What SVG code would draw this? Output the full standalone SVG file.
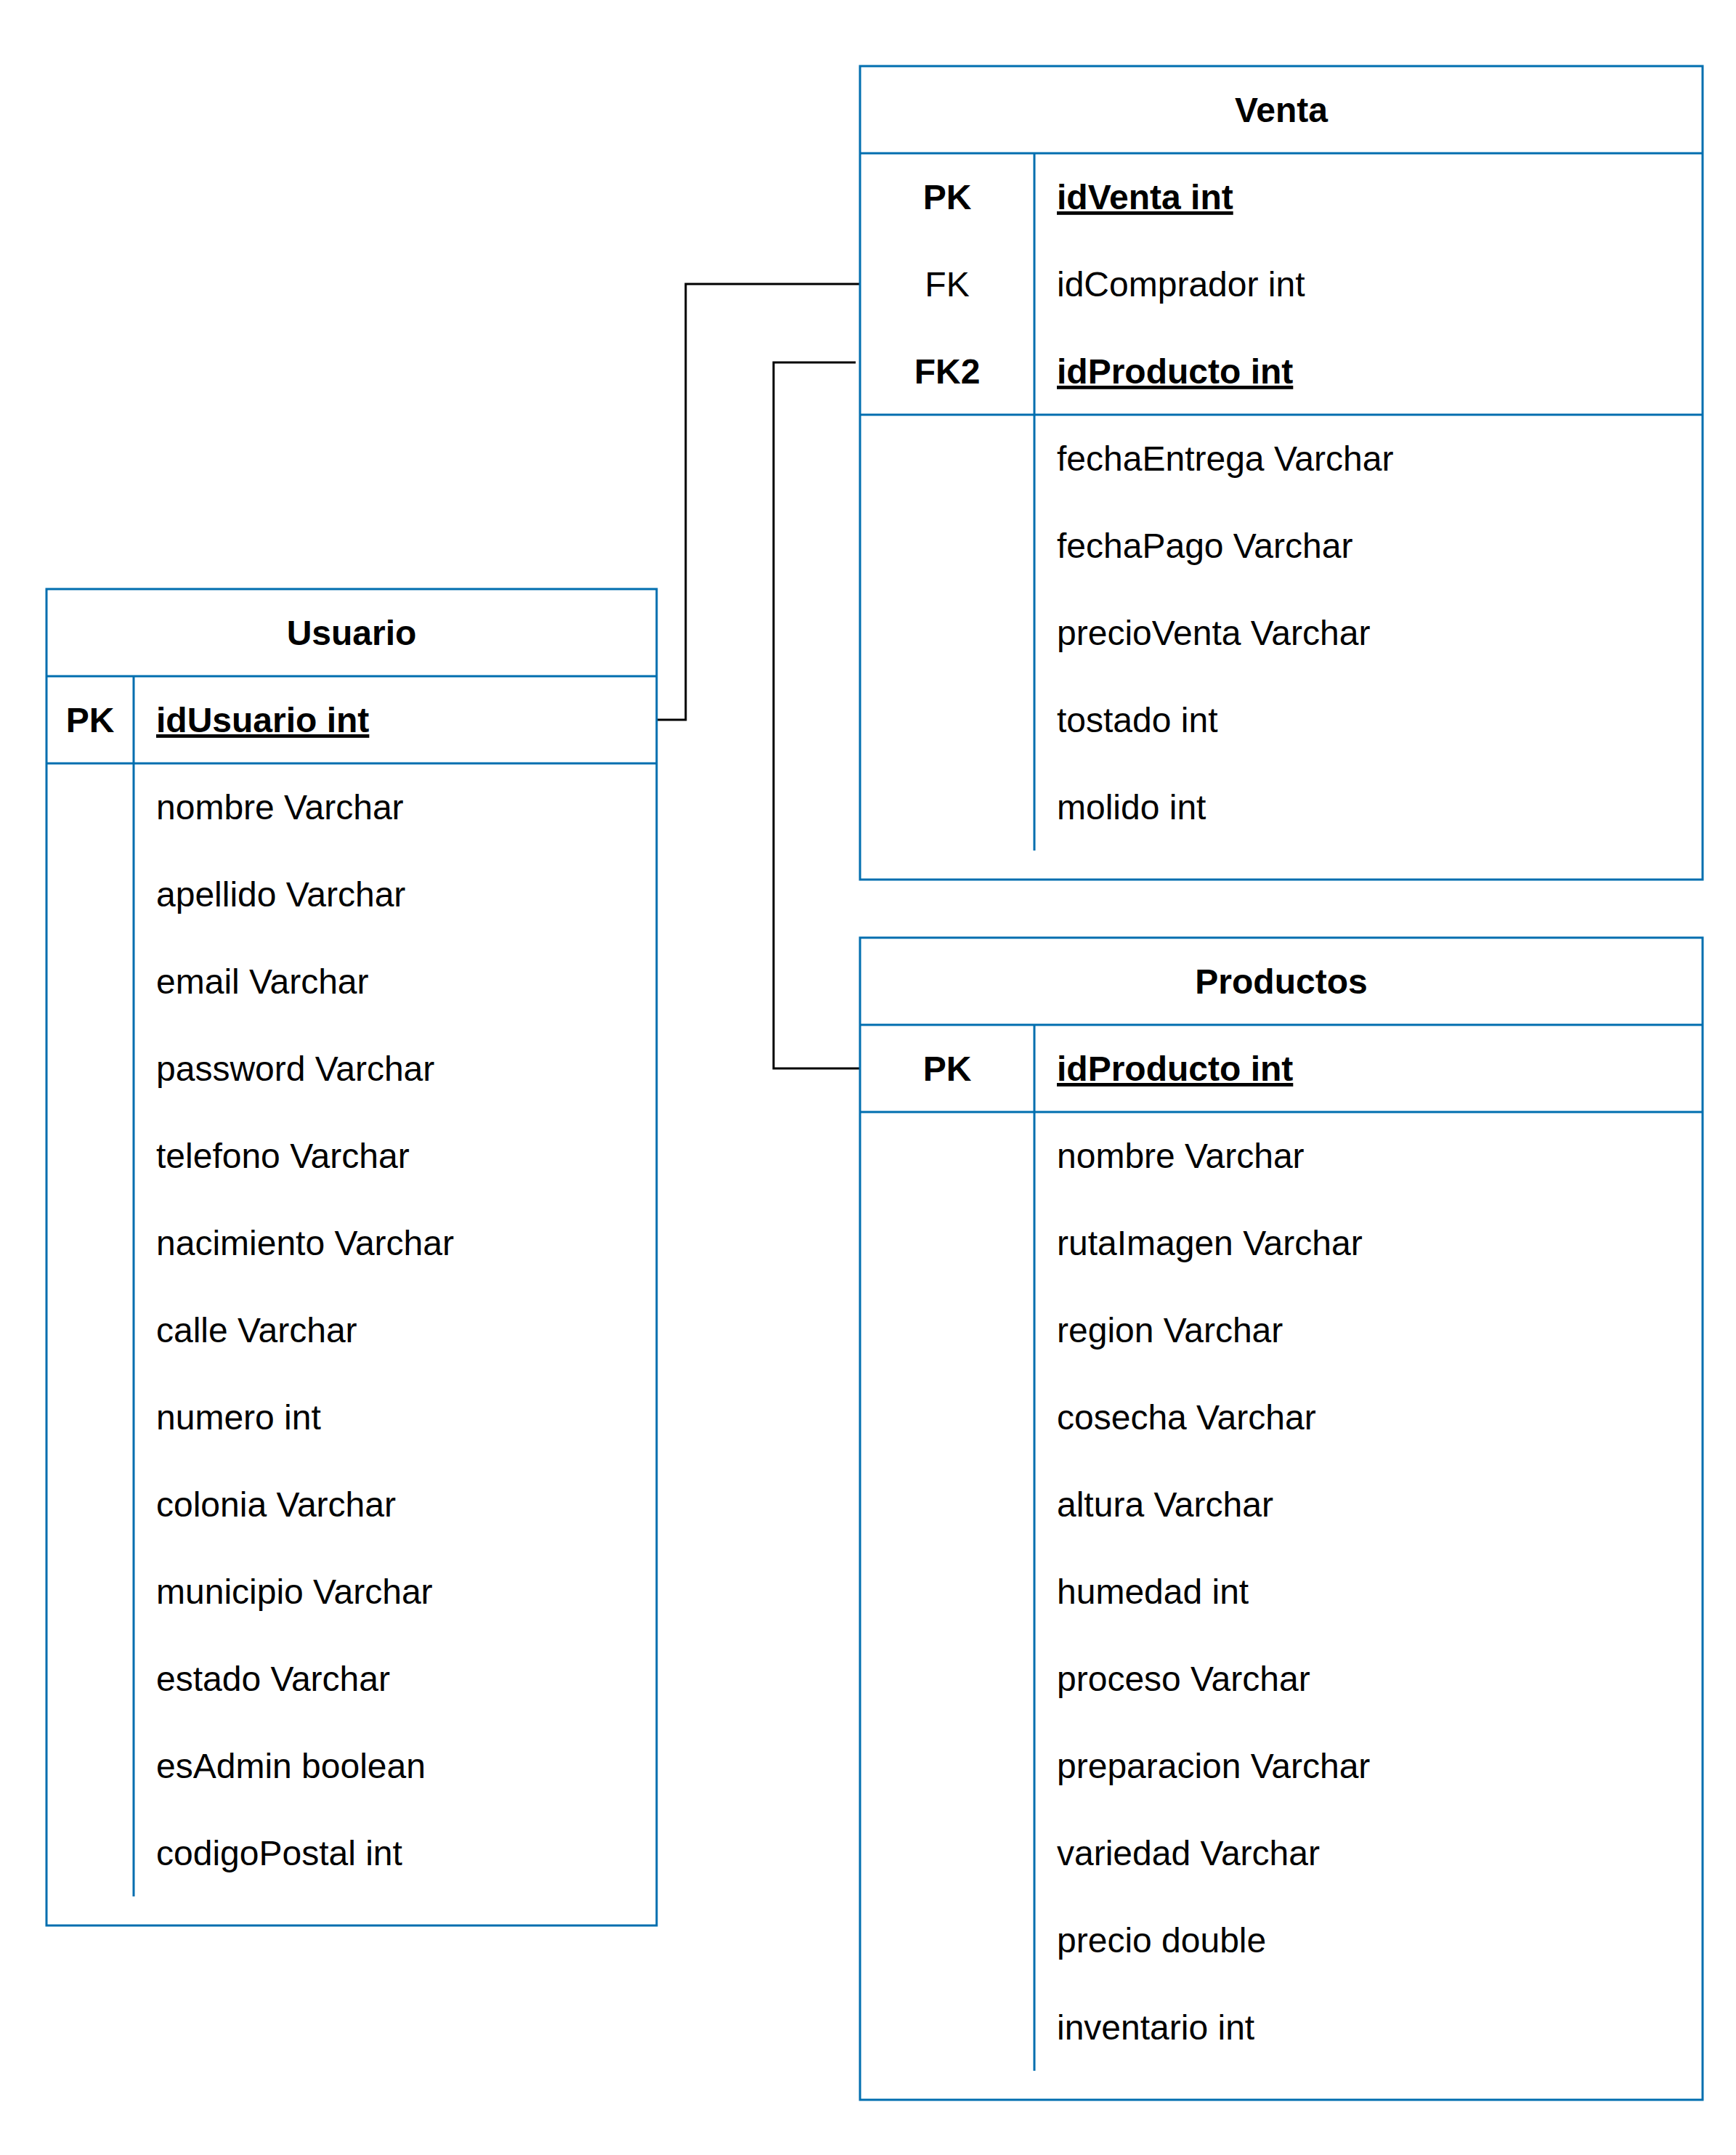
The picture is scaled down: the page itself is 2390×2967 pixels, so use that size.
<svg xmlns="http://www.w3.org/2000/svg" width="2390" height="2967" viewBox="0 0 2390 2967">
<style>
.box{fill:#ffffff;stroke:#006EAF;stroke-width:3}
.ln{stroke:#006EAF;stroke-width:3;fill:none}
.con{stroke:#000000;stroke-width:3;fill:none}
text{font-family:"Liberation Sans",Arial,sans-serif;font-size:48px;fill:#000000}
.b{font-weight:bold}
.c{text-anchor:middle}
.u{text-decoration:underline}
</style>
<rect width="2390" height="2967" fill="#ffffff"/>
<g id="connectors">
<polyline class="con" points="904,991 944,991 944,391 1184,391"/>
<polyline class="con" points="1178,499 1065,499 1065,1471 1184,1471"/>
</g>
<g id="usuario">
<rect class="box" x="64" y="811" width="840" height="1840"/>
<line class="ln" x1="64" y1="931" x2="904" y2="931"/>
<line class="ln" x1="64" y1="1051" x2="904" y2="1051"/>
<line class="ln" x1="184" y1="931" x2="184" y2="2611"/>
<text class="b c" x="484" y="888">Usuario</text>
<text class="b c" x="124" y="1008">PK</text>
<text class="b u" x="215" y="1008">idUsuario int</text>
<text x="215" y="1128">nombre Varchar</text>
<text x="215" y="1248">apellido Varchar</text>
<text x="215" y="1368">email Varchar</text>
<text x="215" y="1488">password Varchar</text>
<text x="215" y="1608">telefono Varchar</text>
<text x="215" y="1728">nacimiento Varchar</text>
<text x="215" y="1848">calle Varchar</text>
<text x="215" y="1968">numero int</text>
<text x="215" y="2088">colonia Varchar</text>
<text x="215" y="2208">municipio Varchar</text>
<text x="215" y="2328">estado Varchar</text>
<text x="215" y="2448">esAdmin boolean</text>
<text x="215" y="2568">codigoPostal int</text>
</g>
<g id="venta">
<rect class="box" x="1184" y="91" width="1160" height="1120"/>
<line class="ln" x1="1184" y1="211" x2="2344" y2="211"/>
<line class="ln" x1="1184" y1="571" x2="2344" y2="571"/>
<line class="ln" x1="1424" y1="211" x2="1424" y2="1171"/>
<text class="b c" x="1764" y="168">Venta</text>
<text class="b c" x="1304" y="288">PK</text>
<text class="b u" x="1455" y="288">idVenta int</text>
<text class="c" x="1304" y="408">FK</text>
<text x="1455" y="408">idComprador int</text>
<text class="b c" x="1304" y="528">FK2</text>
<text class="b u" x="1455" y="528">idProducto int</text>
<text x="1455" y="648">fechaEntrega Varchar</text>
<text x="1455" y="768">fechaPago Varchar</text>
<text x="1455" y="888">precioVenta Varchar</text>
<text x="1455" y="1008">tostado int</text>
<text x="1455" y="1128">molido int</text>
</g>
<g id="productos">
<rect class="box" x="1184" y="1291" width="1160" height="1600"/>
<line class="ln" x1="1184" y1="1411" x2="2344" y2="1411"/>
<line class="ln" x1="1184" y1="1531" x2="2344" y2="1531"/>
<line class="ln" x1="1424" y1="1411" x2="1424" y2="2851"/>
<text class="b c" x="1764" y="1368">Productos</text>
<text class="b c" x="1304" y="1488">PK</text>
<text class="b u" x="1455" y="1488">idProducto int</text>
<text x="1455" y="1608">nombre Varchar</text>
<text x="1455" y="1728">rutaImagen Varchar</text>
<text x="1455" y="1848">region Varchar</text>
<text x="1455" y="1968">cosecha Varchar</text>
<text x="1455" y="2088">altura Varchar</text>
<text x="1455" y="2208">humedad int</text>
<text x="1455" y="2328">proceso Varchar</text>
<text x="1455" y="2448">preparacion Varchar</text>
<text x="1455" y="2568">variedad Varchar</text>
<text x="1455" y="2688">precio double</text>
<text x="1455" y="2808">inventario int</text>
</g>
</svg>
